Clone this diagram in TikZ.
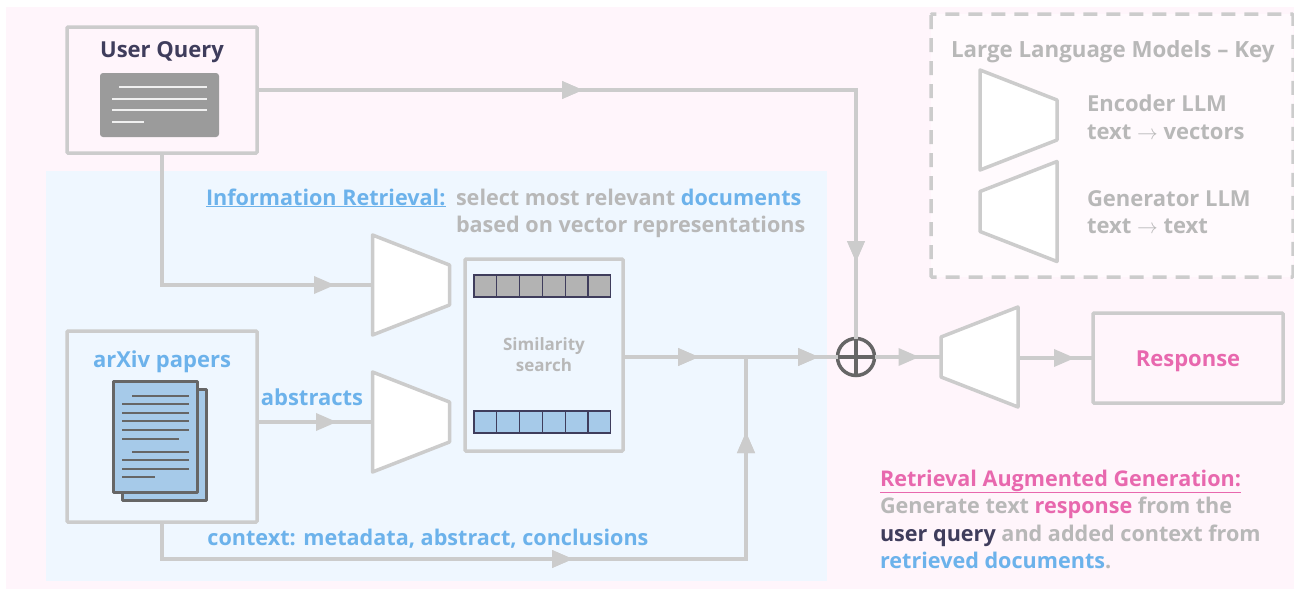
\documentclass[tikz,border=0pt]{standalone}
\usepackage{fontspec}
\setmainfont{Open Sans}[BoldFont={Open Sans Bold}]
\usetikzlibrary{arrows.meta}
\usetikzlibrary{decorations.markings}
\definecolor{linegray}{HTML}{CCCCCC}
\definecolor{textgray}{HTML}{B8B8B8}
\definecolor{darkgray}{HTML}{666666}
\definecolor{icongray}{HTML}{9B9B9B}
\definecolor{cellgray}{HTML}{B3B3B3}
\definecolor{cellblue}{HTML}{A6CAE9}
\definecolor{infoblue}{HTML}{6CB2EB}
\definecolor{genpink}{HTML}{E868AE}
\definecolor{navy}{HTML}{3F3D5C}
\definecolor{pinkbg}{HTML}{FFF5FB}
\definecolor{bluebg}{HTML}{EFF7FF}
\tikzset{
    ->-/.style={decoration={
        markings,
        mark=at position #1 with {\arrow{Triangle[length=21pt,width=17pt]}}},postaction={decorate}},
    wire/.style={draw=linegray, line width=3.5pt},
    block/.style={draw=linegray, line width=3.5pt, rounded corners=1pt, inner sep=0pt, outer sep=0pt},
    llmbox/.style={inner sep=0pt, outer sep=0pt, minimum width=77pt, minimum height=100pt},
    llm/.style={draw=linegray, line width=3.5pt, fill=white, line join=round},
    veccell/.style={draw=navy, line width=1.2pt, inner sep=0pt, outer sep=0pt, minimum width=22.8pt, minimum height=22pt},
    txt/.style={font=\fontsize{22}{27}\selectfont\bfseries, inner sep=0pt, outer sep=0pt, anchor=base},
    tighttxt/.style={txt, font=\fontsize{21.6}{27}\selectfont\bfseries},
    para/.style={txt, anchor=base west, text=textgray},
    tightpara/.style={tighttxt, anchor=base west, text=textgray},
    paper/.style={draw=darkgray, line width=3pt, fill=cellblue, line join=round},
    paperline/.style={draw=darkgray, line width=2pt}
}
\newcommand{\encshape}[1]{\draw[llm] (#1.north west) -- ([yshift=-30pt]#1.north east) -- ([yshift=30pt]#1.south east) -- (#1.south west) -- cycle;}
\newcommand{\genshape}[1]{\draw[llm] (#1.north east) -- ([yshift=-30pt]#1.north west) -- ([yshift=30pt]#1.south west) -- (#1.south east) -- cycle;}
\begin{document}
\begin{tikzpicture}[x=1pt,y=-1pt]
    \useasboundingbox (0,0) rectangle (1294,589);

    \fill[pinkbg] (6,7) rectangle (1294,589);
    \fill[bluebg] (46,171) rectangle (827,581);
    \fill[white!55!pinkbg] (931,14) rectangle (1293,277);
    \draw[linegray, line width=3.5pt, dash pattern=on 14pt off 9pt, rounded corners=1pt] (931,14) rectangle (1293,277);

    \node[block, minimum width=190pt, minimum height=126pt] (query) at (162,90) {};
    \node[block, minimum width=190pt, minimum height=191pt] (arxiv) at (162,426.5) {};
    \node[block, minimum width=158pt, minimum height=192pt] (sim) at (544,355) {};
    \node[block, minimum width=190pt, minimum height=90pt] (resp) at (1188,358) {};

    \node[llmbox] (enc1) at (411,285) {};
    \node[llmbox] (enc2) at (411,422) {};
    \node[llmbox] (gen) at (979.5,357) {};
    \node[llmbox] (keyenc) at (1018.5,120) {};
    \node[llmbox] (keygen) at (1018.5,211.5) {};

    \node[circle, draw=darkgray, line width=3.5pt, inner sep=0pt, outer sep=0pt, minimum size=37pt] (add) at (856,357) {};
    \coordinate (join) at (746,357);
    \coordinate (ctxturn) at (746,559);

    \draw[wire, ->-=326pt, ->-=771pt] (query.east) -| (add.north);
    \draw[wire, ->-=305pt] (query.south) |- (enc1.west);
    \draw[wire, ->-=80pt] (arxiv.east |- enc2.west) -- (enc2.west);
    \draw[wire, ->-=448pt, ->-=748pt] (arxiv.south) |- (ctxturn) -- (join);
    \draw[wire, ->-=76pt, ->-=196pt] (sim.east |- add.west) -- (add.west);
    \draw[wire, ->-=45pt] (add.east) -- (gen.west);
    \draw[wire, ->-=57pt] (gen.east |- resp.west) -- (resp.west);

    \draw[darkgray, line width=3.5pt] (add.north) -- (add.south);
    \draw[darkgray, line width=3.5pt] (add.west) -- (add.east);

    \encshape{enc1}
    \encshape{enc2}
    \genshape{gen}
    \encshape{keyenc}
    \genshape{keygen}

    \foreach \i in {0,...,5} {
        \node[veccell, fill=cellgray] (qcell\i) at (485.4+22.8*\i,286) {};
        \node[veccell, fill=cellblue] (dcell\i) at (485.4+22.8*\i,422) {};
    }

    \fill[icongray, rounded corners=3pt] (100,73) rectangle (219,137);
    \foreach \xa/\xb/\ya in {119/207/87, 112/207/98.5, 112/207/110, 112/144/121.5} {
        \draw[white!85!icongray, line width=2pt] (\xa,\ya) -- (\xb,\ya);
    }

    \draw[paper] (122,389) rectangle (206,500);
    \draw[paper] (113,381) rectangle (197,492);
    \foreach \xa/\xb/\ya in {132/189/396, 122/189/404.3, 122/189/412.7, 122/189/421, 122/189/430, 122/179/438.7, 132/189/452, 122/189/460.3, 122/189/468.7, 122/155/477} {
        \draw[paperline] (\xa,\ya) -- (\xb,\ya);
    }

    \node[txt, text=navy] (querytxt) at (162,57) {User Query};
    \node[txt, text=infoblue] (arxivtxt) at (162,367) {arXiv papers};
    \node[txt, text=infoblue] (abstxt) at (312,405) {abstracts};
    \node[tighttxt, text=infoblue] (ctxtxt) at (428,545) {context: metadata, abstract, conclusions};
    \node[txt, text=genpink] (resptxt) at (1188,366) {Response};
    \node[txt, text=textgray, font=\fontsize{17}{21}\selectfont\bfseries] (simtxt1) at (544,350) {Similarity};
    \node[txt, text=textgray, font=\fontsize{17}{21}\selectfont\bfseries] (simtxt2) at (544,371) {search};

    \node[tightpara, text=infoblue] (irhead) at (206,205) {\underline{Information Retrieval:}};
    \node[tightpara] (irline1) at (456,205) {select most relevant \textcolor{infoblue}{documents}};
    \node[tightpara] (irline2) at (456,232) {based on vector representations};

    \node[para, font=\fontsize{22.3}{27}\selectfont\bfseries] (keyhead) at (951,57) {Large Language Models -- Key};
    \node[para] (enctxt1) at (1087,111) {Encoder LLM};
    \node[para] (enctxt2) at (1087,139) {text $\rightarrow$ vectors};
    \node[para] (gentxt1) at (1087,206) {Generator LLM};
    \node[para] (gentxt2) at (1087,233) {text $\rightarrow$ text};

    \node[tightpara, text=genpink] (raghead) at (880,486) {\underline{Retrieval Augmented Generation:}};
    \node[tightpara] (ragline1) at (880,513) {Generate text \textcolor{genpink}{response} from the};
    \node[tightpara] (ragline2) at (880,541) {\textcolor{navy}{user query} and added context from};
    \node[tightpara] (ragline3) at (880,568) {\textcolor{infoblue}{retrieved documents}.};
\end{tikzpicture}
\end{document}
